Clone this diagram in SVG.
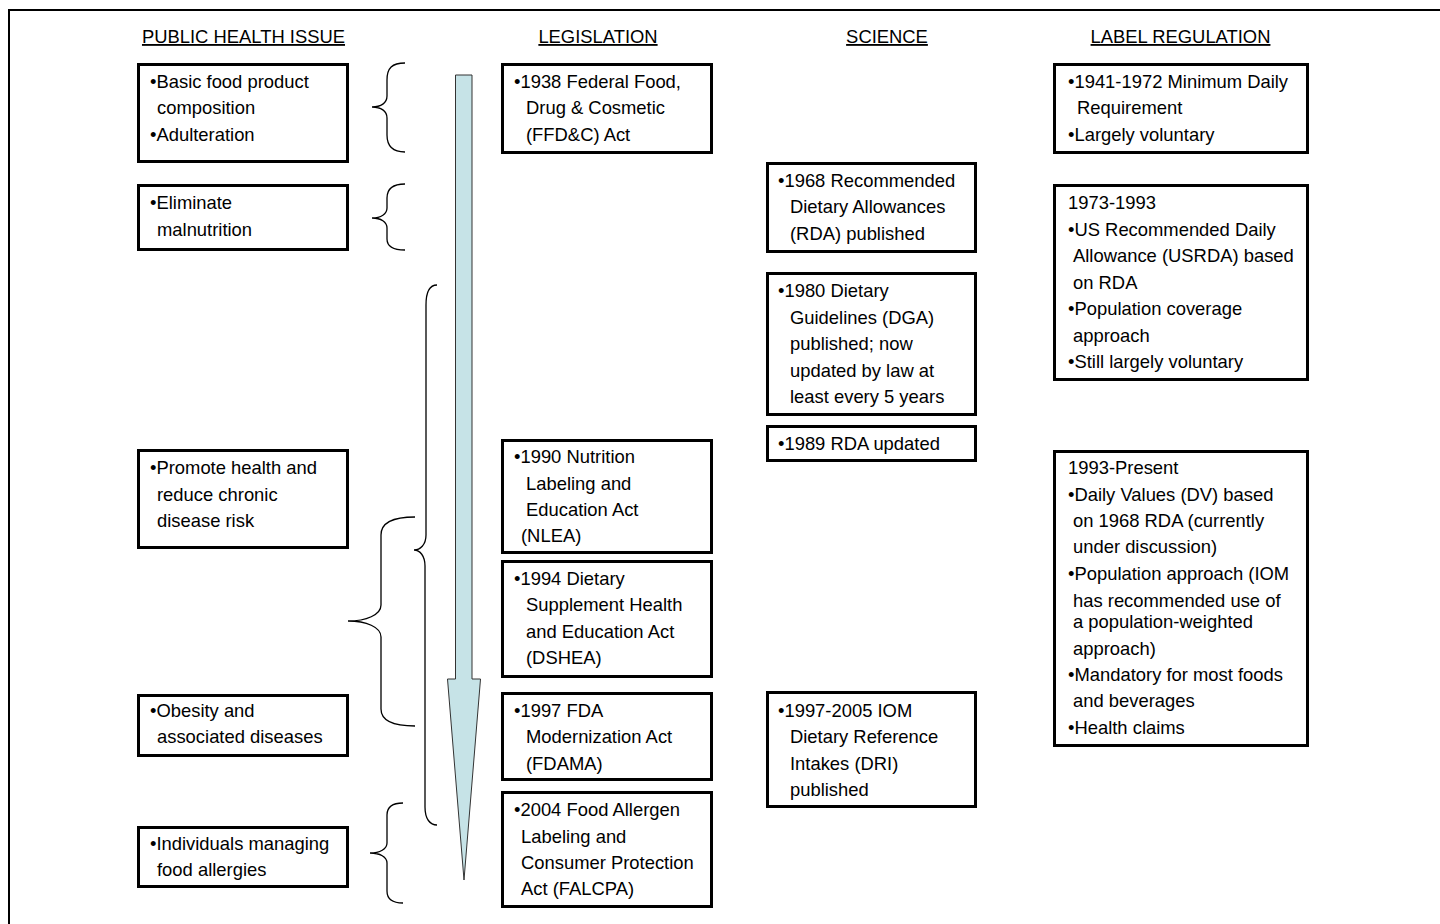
<svg xmlns="http://www.w3.org/2000/svg" width="1440" height="924" viewBox="0 0 1440 924">
<style>
text{font-family:"Liberation Sans",Arial,sans-serif;font-size:18.4px;fill:#000}
.h{text-anchor:middle;text-decoration:underline}
.box{fill:#fff;stroke:#000;stroke-width:3}
.brace{fill:none;stroke:#000;stroke-width:1.3}
</style>
<rect width="1440" height="924" fill="#fff"/>
<path d="M9,940 L9,10 L1450,10" fill="none" stroke="#000" stroke-width="2"/>
<g id="headers">
<text class="h" x="243.5" y="43">PUBLIC HEALTH ISSUE</text>
<text class="h" x="598" y="43">LEGISLATION</text>
<text class="h" x="887" y="43">SCIENCE</text>
<text class="h" x="1180.5" y="43">LABEL REGULATION</text>
</g>
<g id="connectors">
<path class="brace" d="M405,63 C392,63 387,68 387,80 L387,96 C387,103 381,107 372,107 C381,107 387,111 387,118 L387,135 C387,146 392,152 405,152"/>
<path class="brace" d="M405,184 C392,184 387,189 387,198 L387,208 C387,214 381,218 372,218 C381,218 387,222 387,228 L387,239 C387,246 392,250 405,250"/>
<path class="brace" d="M437,285 C430,285 426,292 426,305 L426,535 C426,545 420,550 414,550 C420,550 425,556 425,566 L425,807 C425,819 430,825 437,825"/>
<path class="brace" d="M415,517 C393,517 381,522 381,535 L381,605 C381,615 366,621 348,621 C366,621 381,627 381,637 L381,709 C381,721 393,726 415,726"/>
<path class="brace" d="M403,803 C392,803 387,807 387,815 L387,843 C387,849 380,853 370,853 C380,853 387,857 387,863 L387,891 C387,899 392,903 403,903"/>
<path id="timeline-arrow" d="M455.5,75 L472,75 L472,679 L480.5,679 L464,880 L447.5,679 L455.5,679 Z" fill="#C6E3E7" stroke="#333" stroke-width="1"/>
</g>
<g id="ph1"><rect class="box" x="138.5" y="64.5" width="209" height="97"/>
<text x="150" y="88">•Basic food product</text><text x="157" y="114">composition</text><text x="150" y="141">•Adulteration</text></g>
<g id="ph2"><rect class="box" x="138.5" y="185.5" width="209" height="64"/>
<text x="150" y="209">•Eliminate</text><text x="157" y="236">malnutrition</text></g>
<g id="ph3"><rect class="box" x="138.5" y="450.5" width="209" height="97"/>
<text x="150" y="474">•Promote health and</text><text x="157" y="501">reduce chronic</text><text x="157" y="527">disease risk</text></g>
<g id="ph4"><rect class="box" x="138.5" y="695.5" width="209" height="60"/>
<text x="150" y="717">•Obesity and</text><text x="157" y="743">associated diseases</text></g>
<g id="ph5"><rect class="box" x="138.5" y="827.5" width="209" height="59"/>
<text x="150" y="850">•Individuals managing</text><text x="157" y="876">food allergies</text></g>

<g id="leg1938"><rect class="box" x="502.5" y="64.5" width="209" height="88"/>
<text x="514" y="88">•1938 Federal Food,</text><text x="526" y="114">Drug &amp; Cosmetic</text><text x="526" y="141">(FFD&amp;C) Act</text></g>
<g id="leg1990"><rect class="box" x="502.5" y="440.5" width="209" height="112"/>
<text x="514" y="463">•1990 Nutrition</text><text x="526" y="490">Labeling and</text><text x="526" y="516">Education Act</text><text x="521" y="542">(NLEA)</text></g>
<g id="leg1994"><rect class="box" x="502.5" y="561.5" width="209" height="115"/>
<text x="514" y="585">•1994 Dietary</text><text x="526" y="611">Supplement Health</text><text x="526" y="638">and Education Act</text><text x="526" y="664">(DSHEA)</text></g>
<g id="leg1997"><rect class="box" x="502.5" y="693.5" width="209" height="86"/>
<text x="514" y="717">•1997 FDA</text><text x="526" y="743">Modernization Act</text><text x="526" y="770">(FDAMA)</text></g>
<g id="leg2004"><rect class="box" x="502.5" y="792.5" width="209" height="114"/>
<text x="514" y="816">•2004 Food Allergen</text><text x="521" y="843">Labeling and</text><text x="521" y="869">Consumer Protection</text><text x="521" y="895">Act (FALCPA)</text></g>

<g id="sci1968"><rect class="box" x="767.5" y="163.5" width="208" height="88"/>
<text x="778" y="187">•1968 Recommended</text><text x="790" y="213">Dietary Allowances</text><text x="790" y="240">(RDA) published</text></g>
<g id="sci1980"><rect class="box" x="767.5" y="273.5" width="208" height="141"/>
<text x="778" y="297">•1980 Dietary</text><text x="790" y="324">Guidelines (DGA)</text><text x="790" y="350">published; now</text><text x="790" y="377">updated by law at</text><text x="790" y="403">least every 5 years</text></g>
<g id="sci1989"><rect class="box" x="767.5" y="426.5" width="208" height="34"/>
<text x="778" y="450">•1989 RDA updated</text></g>
<g id="sci1997"><rect class="box" x="767.5" y="692.5" width="208" height="114"/>
<text x="778" y="717">•1997-2005 IOM</text><text x="790" y="743">Dietary Reference</text><text x="790" y="770">Intakes (DRI)</text><text x="790" y="796">published</text></g>

<g id="lab1941"><rect class="box" x="1054.5" y="64.5" width="253" height="88"/>
<text x="1068" y="88">•1941-1972 Minimum Daily</text><text x="1077" y="114">Requirement</text><text x="1068" y="141">•Largely voluntary</text></g>
<g id="lab1973"><rect class="box" x="1054.5" y="185.5" width="253" height="194"/>
<text x="1068" y="209">1973-1993</text><text x="1068" y="236">•US Recommended Daily</text><text x="1073" y="262">Allowance (USRDA) based</text><text x="1073" y="289">on RDA</text><text x="1068" y="315">•Population coverage</text><text x="1073" y="342">approach</text><text x="1068" y="368">•Still largely voluntary</text></g>
<g id="lab1993"><rect class="box" x="1054.5" y="451.5" width="253" height="294"/>
<text x="1068" y="474">1993-Present</text><text x="1068" y="501">•Daily Values (DV) based</text><text x="1073" y="527">on 1968 RDA (currently</text><text x="1073" y="553">under discussion)</text><text x="1068" y="580">•Population approach (IOM</text><text x="1073" y="607">has recommended use of</text><text x="1073" y="628">a population-weighted</text><text x="1073" y="655">approach)</text><text x="1068" y="681">•Mandatory for most foods</text><text x="1073" y="707">and beverages</text><text x="1068" y="734">•Health claims</text></g>
</svg>
